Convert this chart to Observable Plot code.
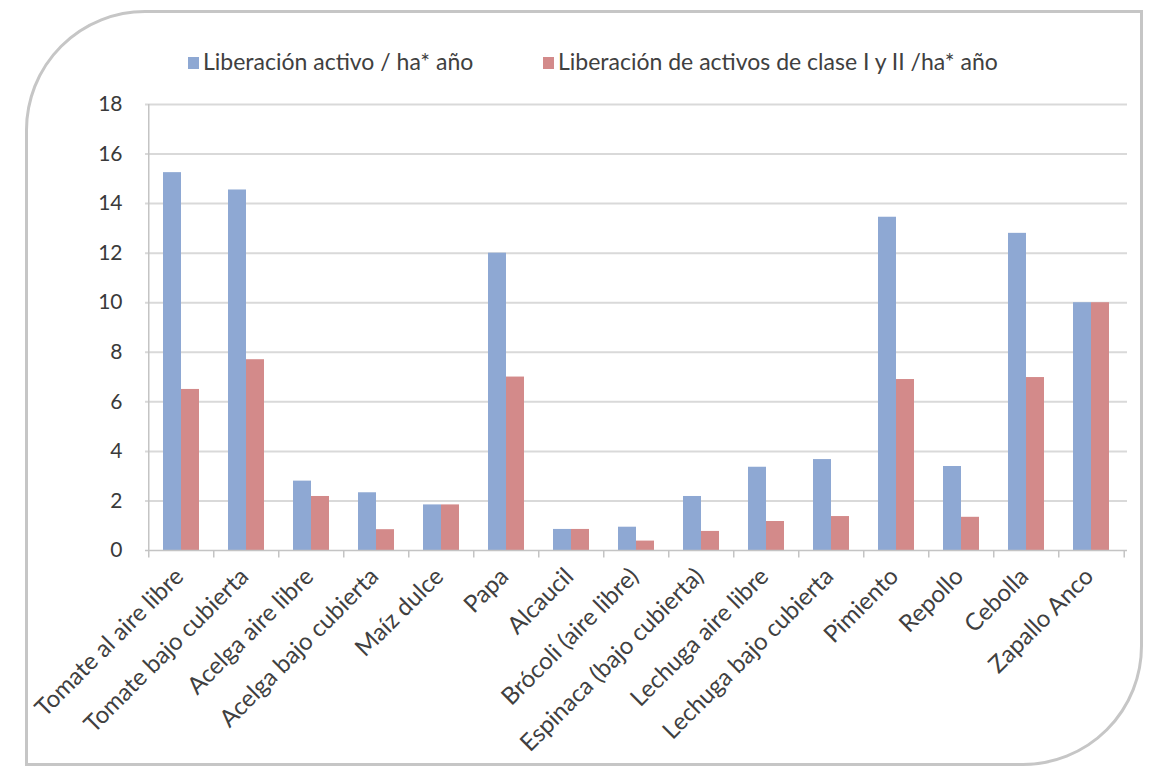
<!DOCTYPE html>
<html>
<head>
<meta charset="utf-8">
<script src="https://cdn.jsdelivr.net/npm/d3@7"></script>
<script src="https://cdn.jsdelivr.net/npm/@observablehq/plot@0.6"></script>
<style>
  html, body { margin: 0; padding: 0; background: #fff; }
  #wrap { position: relative; width: 1150px; height: 780px; overflow: hidden; font-family: Lato, "Open Sans", sans-serif; }
  #frame { position: absolute; left: 25px; top: 10px; width: 1118px; height: 756px; border: 3px solid #c6c6c6; border-radius: 120px 0 120px 0; box-sizing: border-box; }
  #legend { position: absolute; top: 0; left: 0; width: 1150px; height: 90px; }
  .item { position: absolute; top: 47px; font-size: 23px; color: #404040; white-space: nowrap; }
  .sw { display: inline-block; width: 11px; height: 12px; margin-right: 4px; vertical-align: 1px; }
  #chart { position: absolute; top: 90px; left: 0; }
</style>
</head>
<body>
<div id="wrap">
  <div id="frame"></div>
  <div id="legend"></div>
  <div id="chart"></div>
</div>
<script>
const categories = [
  "Tomate al aire libre", "Tomate bajo cubierta", "Acelga aire libre", "Acelga bajo cubierta",
  "Maíz dulce", "Papa", "Alcaucil", "Brócoli (aire libre)", "Espinaca (bajo cubierta)",
  "Lechuga aire libre", "Lechuga bajo cubierta", "Pimiento", "Repollo", "Cebolla", "Zapallo Anco"
];
const seriesNames = ["Liberación activo / ha* año", "Liberación de activos de clase I y II /ha* año"];
const liberacionActivo = [15.25, 14.55, 2.8, 2.33, 1.84, 12.0, 0.85, 0.94, 2.18, 3.36, 3.67, 13.45, 3.39, 12.8, 10.0];
const liberacionClase = [6.5, 7.7, 2.18, 0.84, 1.84, 7.0, 0.85, 0.38, 0.77, 1.17, 1.37, 6.9, 1.34, 6.98, 10.0];
const yTicks = [0, 2, 4, 6, 8, 10, 12, 14, 16, 18];
const colors = ["#8ea8d3", "#d38a8a"];

// legend
const legend = document.getElementById("legend");
const legendLeft = [188, 543];
seriesNames.forEach((name, i) => {
  const el = document.createElement("div");
  el.className = "item";
  el.style.left = legendLeft[i] + "px";
  el.innerHTML = `<span class="sw" style="background:${colors[i]}"></span>${name}`;
  legend.appendChild(el);
});

const W = 1150, H = 690, mL = 145, mR = 23;
const step = (W - mL - mR) / categories.length;
const half = step * 0.55 / 2;

const chart = Plot.plot({
  width: W,
  height: H,
  marginTop: 14,
  marginBottom: 230,
  marginLeft: mL,
  marginRight: mR,
  style: { fontFamily: "Lato, 'Open Sans', sans-serif", background: "transparent", overflow: "visible" },
  x: { domain: categories, paddingInner: 0.45, paddingOuter: 0.225, label: null },
  y: { domain: [0, 18], label: null },
  marks: [
    Plot.ruleY(yTicks.filter(d => d > 0), { stroke: "#d9d9d9", strokeWidth: 2 }),
    Plot.barY(categories, { x: d => d, y: (d, i) => liberacionActivo[i], fill: colors[0], insetRight: half }),
    Plot.barY(categories, { x: d => d, y: (d, i) => liberacionClase[i], fill: colors[1], insetLeft: half }),
    Plot.ruleY([0], { stroke: "#c4c4c4", strokeWidth: 1.5 }),
    Plot.ruleX(categories, { x: d => d, y1: 0, y2: 18, dx: -step / 2, stroke: "#c4c4c4", strokeWidth: 1.5, filter: (d, i) => i === 0 }),
    Plot.ruleX(categories, { x: d => d, y1: 0, y2: -0.3, dx: -step / 2, stroke: "#c4c4c4", strokeWidth: 1.5 }),
    Plot.ruleX([categories[categories.length - 1]], { x: d => d, y1: 0, y2: -0.3, dx: step / 2, stroke: "#c4c4c4", strokeWidth: 1.5 }),
    Plot.axisY(yTicks, { tickSize: 0, tickPadding: 23, fontSize: 21, fill: "#3a3a3a", label: null }),
    Plot.axisX({ tickSize: 0, tickPadding: 22, dx: -2, tickRotate: -45, fontSize: 24, fill: "#404040", label: null })
  ]
});
document.getElementById("chart").appendChild(chart);
</script>
</body>
</html>
